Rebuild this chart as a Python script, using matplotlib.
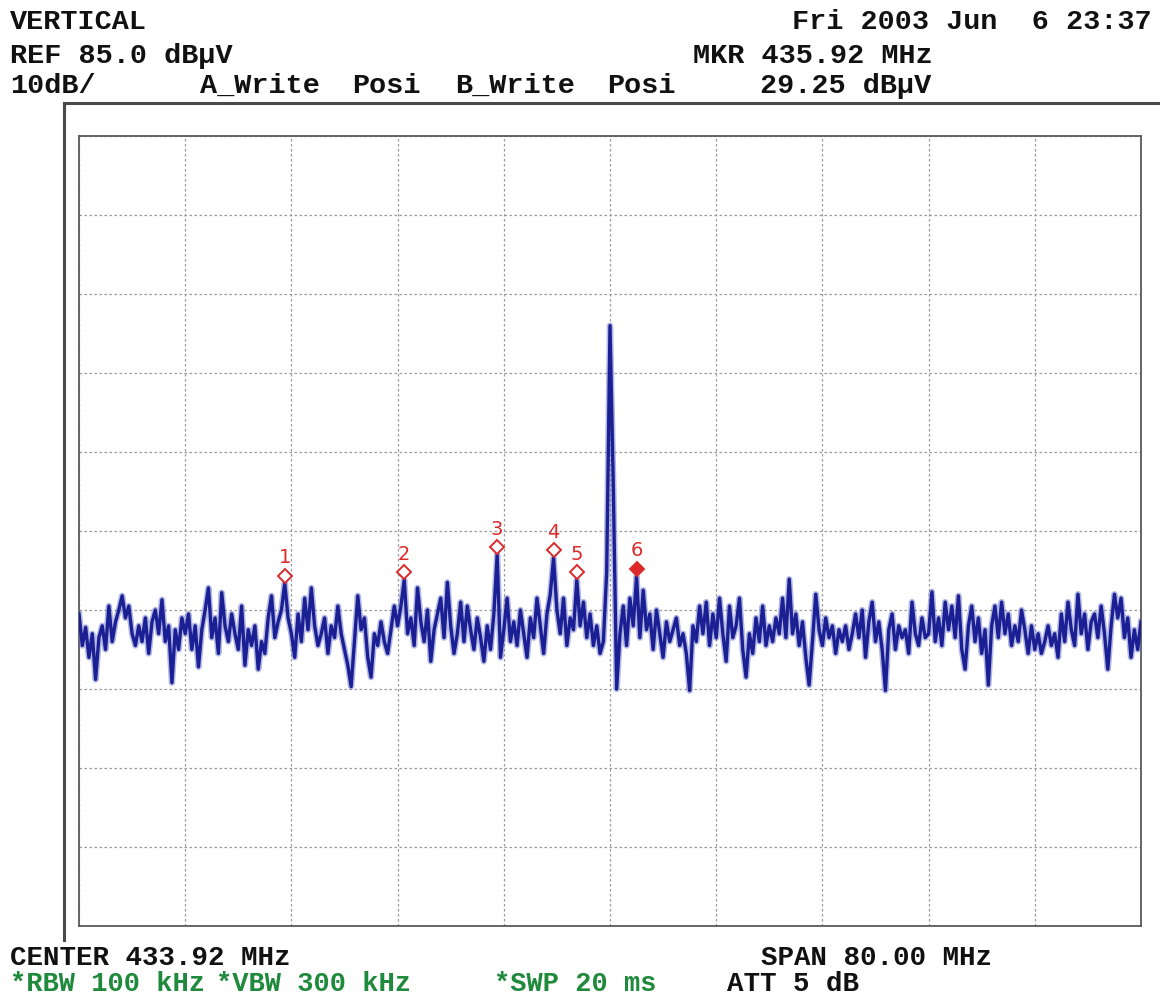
import matplotlib.pyplot as plt
import matplotlib.transforms as mtransforms
import numpy as np

# sweep settings (MHz, dBuV)
center_mhz = 433.92
span_mhz = 80.0
ref_level = 85.0
db_per_div = 10.0

# trace A, 321 points across the span
trace_db = [
    24.5, 20.5, 22.8, 19.0, 22.0, 16.2, 21.5, 23.0, 20.0, 25.5, 21.0, 23.5, 25.0, 26.8, 24.0, 25.5,
    22.0, 20.5, 23.0, 21.0, 24.0, 19.5, 23.5, 25.0, 22.0, 26.3, 21.0, 23.0, 15.8, 22.5, 20.0, 24.0,
    22.0, 24.5, 20.0, 23.0, 17.8, 22.5, 25.0, 27.8, 21.5, 24.0, 19.5, 27.2, 23.0, 21.0, 24.5, 22.0,
    20.0, 25.5, 18.0, 22.5, 20.5, 23.0, 17.5, 21.0, 19.5, 24.0, 26.8, 21.5, 23.5, 25.0, 28.4, 24.0,
    22.0, 19.0, 24.5, 21.0, 26.5, 22.5, 27.8, 23.0, 20.5, 22.0, 24.0, 19.5, 23.0, 21.5, 25.5, 22.0,
    20.0, 18.0, 15.3, 21.0, 26.8, 22.5, 24.0, 19.0, 16.5, 22.0, 20.5, 23.5, 21.0, 19.5, 22.5, 25.5,
    23.0, 25.5, 28.8, 22.0, 24.0, 20.5, 27.8, 23.5, 21.0, 25.0, 18.5, 22.5, 24.5, 26.5, 21.5, 28.5,
    23.0, 19.5, 22.0, 26.0, 21.0, 25.5, 22.5, 20.0, 24.0, 21.5, 18.5, 23.0, 20.0, 24.5, 32.0, 19.0,
    22.5, 26.5, 21.0, 23.5, 20.5, 25.0, 22.0, 19.0, 24.0, 21.5, 26.5, 23.0, 19.5, 24.5, 27.0, 31.6,
    25.0, 22.0, 26.5, 20.5, 24.0, 22.5, 28.8, 23.0, 26.0, 21.5, 24.5, 20.5, 23.0, 19.5, 21.0, 29.8,
    61.0, 40.5, 15.0, 22.0, 25.5, 20.5, 26.5, 23.0, 29.25, 21.5, 27.5, 22.5, 24.5, 20.0, 25.0, 22.0,
    19.0, 23.5, 21.0, 22.5, 24.0, 20.5, 22.0, 19.5, 14.8, 23.0, 21.0, 25.5, 22.0, 26.0, 20.5, 24.5,
    21.5, 26.5, 22.0, 18.5, 25.5, 21.5, 23.0, 26.5, 20.0, 16.5, 22.0, 19.5, 24.0, 21.0, 25.5, 20.5,
    23.0, 21.0, 24.0, 22.0, 26.5, 21.5, 28.9, 22.0, 24.5, 20.5, 23.5, 19.0, 15.5, 21.0, 27.0, 22.5,
    20.5, 24.0, 21.5, 23.0, 19.5, 22.5, 21.0, 23.0, 20.0, 22.0, 24.5, 21.5, 25.0, 19.0, 23.5, 26.0,
    21.0, 23.5, 20.0, 14.8, 22.5, 24.5, 20.0, 23.0, 21.5, 22.5, 19.5, 26.0, 22.0, 20.5, 24.0, 21.5,
    22.0, 27.3, 21.0, 24.0, 20.5, 26.0, 22.5, 25.5, 21.5, 26.8, 20.0, 17.5, 23.0, 25.5, 21.0, 24.0,
    19.5, 22.5, 15.5, 23.0, 25.5, 21.5, 26.0, 22.0, 24.5, 20.5, 23.0, 21.0, 25.0, 22.5, 19.5, 23.0,
    20.0, 22.0, 19.5, 21.0, 23.0, 20.5, 22.0, 19.0, 24.5, 21.0, 26.0, 22.5, 20.5, 27.0, 22.0, 24.5,
    20.0, 23.5, 24.5, 21.5, 25.5, 22.0, 17.5, 23.0, 27.0, 24.0, 26.5, 21.5, 24.0, 19.0, 22.5, 20.0,
    23.5,
]

# markers: point index on the trace, label
marker_idx = [62, 98, 126, 143, 150, 168]
marker_lbl = ['1', '2', '3', '4', '5', '6']
active_marker = '6'

f_start = center_mhz - span_mhz / 2
f_stop = center_mhz + span_mhz / 2
freqs = np.linspace(f_start, f_stop, len(trace_db))

fig = plt.figure(figsize=(11.6, 10), dpi=100)
fig.patch.set_facecolor('white')

W, H = 1160.0, 1000.0
left, right, top, bottom = 79, 1141, 136, 926
ax = fig.add_axes([left / W, 1 - bottom / H, (right - left) / W, (bottom - top) / H])

ax.set_xlim(f_start, f_stop)
ax.set_ylim(ref_level - 10 * db_per_div, ref_level)
ax.set_xticks(np.linspace(f_start, f_stop, 11))
ax.set_yticks(np.arange(ref_level - 10 * db_per_div, ref_level + 1, db_per_div))
ax.tick_params(length=0, labelbottom=False, labelleft=False)
ax.grid(True, color='#9a9a9a', linestyle=(0, (2, 2)), linewidth=0.9)
for s in ax.spines.values():
    s.set_color('#5a5a5a')
    s.set_linewidth(1.3)

# trace with a soft halo like the phosphor display
ax.plot(freqs, trace_db, color='#5c64c4', lw=4.6, alpha=0.45, zorder=3)
ax.plot(freqs, trace_db, color='#1a1f94', lw=2.4, zorder=4)

red = '#dc2a2a'
for idx, lbl in zip(marker_idx, marker_lbl):
    fx, fy = freqs[idx], trace_db[idx]
    tr_d = mtransforms.offset_copy(ax.transData, fig=fig, x=0, y=5.5, units='points')
    tr_t = mtransforms.offset_copy(ax.transData, fig=fig, x=0, y=11.5, units='points')
    filled = lbl == active_marker
    ax.plot([fx], [fy], marker='D', ms=7.5, mew=1.4, mec=red,
            mfc=red if filled else 'white', transform=tr_d, zorder=5, clip_on=False)
    ax.text(fx, fy, lbl, transform=tr_t, color=red, fontsize=14, ha='center',
            va='bottom', family='DejaVu Sans', zorder=5)

# outer frame lines
fig.add_artist(plt.Line2D([64 / W, 1160 / W], [1 - 103 / H, 1 - 103 / H],
                          color='#4a4a4a', lw=2.2))
fig.add_artist(plt.Line2D([64 / W, 64 / W], [1 - 103 / H, 1 - 940 / H],
                          color='#4a4a4a', lw=2.2))


def label(x, y, s, color='#111111', ha='left', size=20.5):
    fig.text(x / W, 1 - y / H, s, color=color, ha=ha, va='center',
             family='Liberation Mono', fontsize=size, fontweight='bold')


label(10, 22, 'VERTICAL')
label(10, 56, 'REF 85.0 dBµV')
label(10, 86, '10dB/')
label(200, 86, 'A_Write')
label(352, 86, 'Posi')
label(455, 86, 'B_Write')
label(607, 86, 'Posi')
label(1152, 22, 'Fri 2003 Jun  6 23:37', ha='right')
label(693, 56, 'MKR 435.92 MHz')
label(760, 86, '29.25 dBµV')

label(10, 958, 'CENTER 433.92 MHz', size=19.8)
label(761, 958, 'SPAN 80.00 MHz', size=19.8)
green = '#1f8a3c'
label(10, 984, '*RBW 100 kHz', color=green, size=19.5)
label(216, 984, '*VBW 300 kHz', color=green, size=19.5)
label(494, 984, '*SWP 20 ms', color=green, size=19.5)
label(727, 984, 'ATT 5 dB', size=19.8)

fig.savefig('out.png', dpi=100)
